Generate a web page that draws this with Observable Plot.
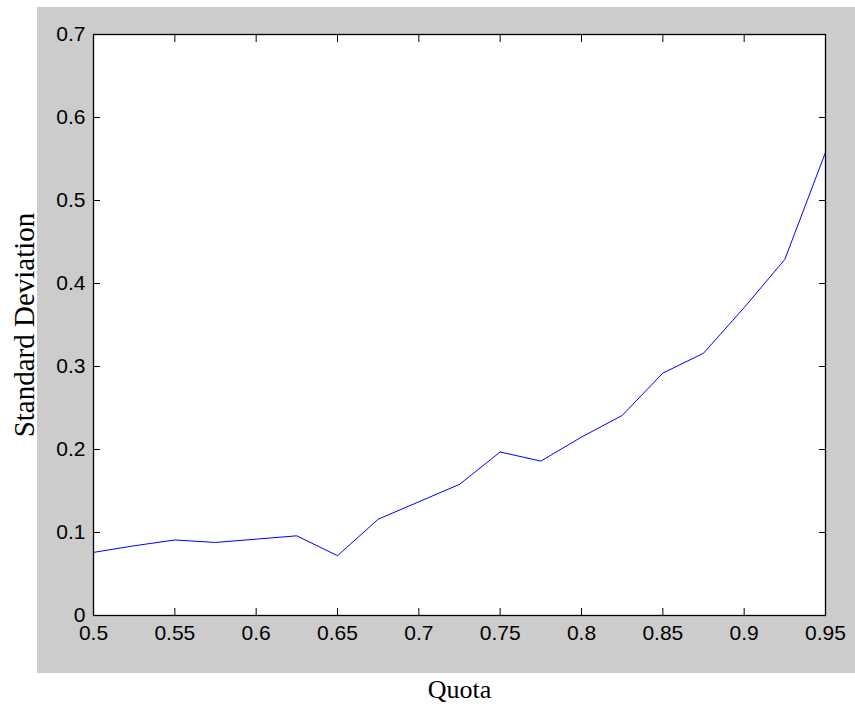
<!DOCTYPE html>
<html>
<head>
<meta charset="utf-8">
<script src="https://cdn.jsdelivr.net/npm/d3@7"></script>
<script src="https://cdn.jsdelivr.net/npm/@observablehq/plot@0.6"></script>
<style>
  html, body { margin: 0; padding: 0; background: #ffffff; }
  #wrap { position: relative; width: 855px; height: 709px; background: #ffffff; overflow: hidden; }
  #panel { position: absolute; left: 37px; top: 7px; width: 818px; height: 666px; background: #cccccc; }
  #chart { position: absolute; left: 0; top: 0; }
  #chart svg { background: transparent; }
</style>
</head>
<body>
<div id="wrap">
  <div id="panel"></div>
  <div id="chart"></div>
</div>
<script>
// Standard deviation of the outcome for each quota level
const quota = [0.5, 0.525, 0.55, 0.575, 0.6, 0.625, 0.65, 0.675, 0.7, 0.725,
               0.75, 0.775, 0.8, 0.825, 0.85, 0.875, 0.9, 0.925, 0.95];
const stdDev = [0.076, 0.084, 0.091, 0.088, 0.092, 0.096, 0.072, 0.116, 0.137, 0.158,
                0.197, 0.186, 0.215, 0.241, 0.292, 0.316, 0.371, 0.429, 0.558];

const xTicks = [0.5, 0.55, 0.6, 0.65, 0.7, 0.75, 0.8, 0.85, 0.9, 0.95];
const yTicks = [0, 0.1, 0.2, 0.3, 0.4, 0.5, 0.6, 0.7];

const xLabel = "Quota";
const yLabel = "Standard Deviation";

const rows = quota.map((q, i) => ({quota: q, sd: stdDev[i]}));

const tickFont = "'Liberation Sans', Arial, sans-serif";
const labelFont = "'Liberation Serif', 'Times New Roman', serif";
const fmt = d => String(d);
const blank = () => "";

const chart = Plot.plot({
  width: 855,
  height: 709,
  marginLeft: 93,
  marginRight: 30,
  marginTop: 34,
  marginBottom: 94,
  style: {background: "transparent", color: "#000"},
  x: {domain: [0.5, 0.95]},
  y: {domain: [0, 0.7]},
  marks: [
    Plot.frame({fill: "#ffffff", stroke: "none"}),
    Plot.line(rows, {x: "quota", y: "sd", stroke: "#0000ff", strokeWidth: 1}),
    // inward tick marks on all four sides
    Plot.axisX(xTicks, {anchor: "bottom", tickSize: 7, dy: -7, tickFormat: blank, label: null, stroke: "#000"}),
    Plot.axisX(xTicks, {anchor: "top", tickSize: 7, dy: 7, tickFormat: blank, label: null, stroke: "#000"}),
    Plot.axisY(yTicks, {anchor: "left", tickSize: 7, dx: 7, tickFormat: blank, label: null, stroke: "#000"}),
    Plot.axisY(yTicks, {anchor: "right", tickSize: 7, dx: -7, tickFormat: blank, label: null, stroke: "#000"}),
    // tick labels
    Plot.axisX(xTicks, {anchor: "bottom", tickSize: 0, tickPadding: 10, tickFormat: fmt, label: null,
      fontFamily: tickFont, fontSize: 21, fill: "#000"}),
    Plot.axisY(yTicks, {anchor: "left", tickSize: 0, tickPadding: 8, tickFormat: fmt, label: null,
      fontFamily: tickFont, fontSize: 21, fill: "#000"}),
    // axis titles
    Plot.axisX([], {anchor: "bottom", label: xLabel, labelAnchor: "center", labelOffset: 82, labelArrow: "none",
      fontFamily: labelFont, fontSize: 26, fill: "#000"}),
    Plot.axisY([], {anchor: "left", label: yLabel, labelAnchor: "center", labelOffset: 80, labelArrow: "none",
      dy: 7, fontFamily: labelFont, fontSize: 29, fill: "#000"}),
    Plot.frame({stroke: "#000", strokeWidth: 1.3})
  ]
});

document.getElementById("chart").appendChild(chart);
</script>
</body>
</html>
